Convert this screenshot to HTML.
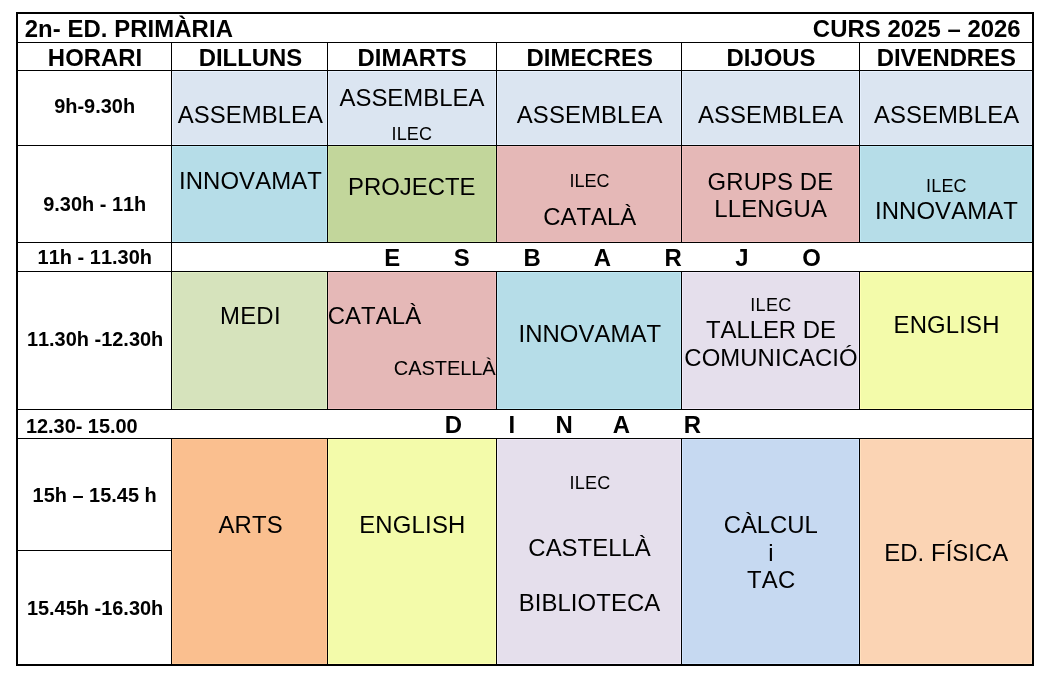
<!DOCTYPE html>
<html lang="ca"><head><meta charset="utf-8"><title>2n- ED. PRIMÀRIA – Horari curs 2025 – 2026</title>
<style>
html,body{margin:0;padding:0;background:#fff;}
body{width:1045px;height:681px;overflow:hidden;}
svg{display:block;will-change:transform;}
text{font-family:"Liberation Sans", Arial, Helvetica, sans-serif;font-kerning:none;fill:#000;white-space:pre;}
.b{font-weight:bold;}
</style></head><body>
<svg width="1045" height="681" viewBox="0 0 1045 681">
<rect x="0" y="0" width="1045" height="681" fill="#fff"/>
<rect x="172" y="71" width="155" height="74" fill="#DBE5F1"/>
<rect x="328" y="71" width="168" height="74" fill="#DBE5F1"/>
<rect x="497" y="71" width="184" height="74" fill="#DBE5F1"/>
<rect x="682" y="71" width="177" height="74" fill="#DBE5F1"/>
<rect x="860" y="71" width="172" height="74" fill="#DBE5F1"/>
<rect x="172" y="146" width="155" height="96" fill="#B6DDE8"/>
<rect x="328" y="146" width="168" height="96" fill="#C2D69B"/>
<rect x="497" y="146" width="184" height="96" fill="#E5B8B7"/>
<rect x="682" y="146" width="177" height="96" fill="#E5B8B7"/>
<rect x="860" y="146" width="172" height="96" fill="#B6DDE8"/>
<rect x="172" y="272" width="155" height="137" fill="#D6E3BC"/>
<rect x="328" y="272" width="168" height="137" fill="#E5B8B7"/>
<rect x="497" y="272" width="184" height="137" fill="#B6DDE8"/>
<rect x="682" y="272" width="177" height="137" fill="#E5DFEC"/>
<rect x="860" y="272" width="172" height="137" fill="#F3FBAA"/>
<rect x="172" y="439" width="155" height="225" fill="#FABF8F"/>
<rect x="328" y="439" width="168" height="225" fill="#F3FBAA"/>
<rect x="497" y="439" width="184" height="225" fill="#E5DFEC"/>
<rect x="682" y="439" width="177" height="225" fill="#C6D9F1"/>
<rect x="860" y="439" width="172" height="225" fill="#FBD4B4"/>
<rect x="172.5" y="71.5" width="154" height="73" fill="none" stroke="#E6F0FD" stroke-width="1"/>
<rect x="328.5" y="71.5" width="167" height="73" fill="none" stroke="#E6F0FD" stroke-width="1"/>
<rect x="497.5" y="71.5" width="183" height="73" fill="none" stroke="#E6F0FD" stroke-width="1"/>
<rect x="682.5" y="71.5" width="176" height="73" fill="none" stroke="#E6F0FD" stroke-width="1"/>
<rect x="860.5" y="71.5" width="171" height="73" fill="none" stroke="#E6F0FD" stroke-width="1"/>
<rect x="172.5" y="146.5" width="154" height="95" fill="none" stroke="#BFE8F4" stroke-width="1"/>
<rect x="328.5" y="146.5" width="167" height="95" fill="none" stroke="#CCE1A3" stroke-width="1"/>
<rect x="497.5" y="146.5" width="183" height="95" fill="none" stroke="#F0C1C0" stroke-width="1"/>
<rect x="682.5" y="146.5" width="176" height="95" fill="none" stroke="#F0C1C0" stroke-width="1"/>
<rect x="860.5" y="146.5" width="171" height="95" fill="none" stroke="#BFE8F4" stroke-width="1"/>
<rect x="172.5" y="272.5" width="154" height="136" fill="none" stroke="#E1EEC5" stroke-width="1"/>
<rect x="328.5" y="272.5" width="167" height="136" fill="none" stroke="#F0C1C0" stroke-width="1"/>
<rect x="497.5" y="272.5" width="183" height="136" fill="none" stroke="#BFE8F4" stroke-width="1"/>
<rect x="682.5" y="272.5" width="176" height="136" fill="none" stroke="#F0EAF8" stroke-width="1"/>
<rect x="860.5" y="272.5" width="171" height="136" fill="none" stroke="#FFFFB2" stroke-width="1"/>
<rect x="172.5" y="439.5" width="154" height="224" fill="none" stroke="#FFC996" stroke-width="1"/>
<rect x="328.5" y="439.5" width="167" height="224" fill="none" stroke="#FFFFB2" stroke-width="1"/>
<rect x="497.5" y="439.5" width="183" height="224" fill="none" stroke="#F0EAF8" stroke-width="1"/>
<rect x="682.5" y="439.5" width="176" height="224" fill="none" stroke="#D0E4FD" stroke-width="1"/>
<rect x="860.5" y="439.5" width="171" height="224" fill="none" stroke="#FFDFBD" stroke-width="1"/>
<rect x="16" y="12" width="1018" height="2" fill="#000"/>
<rect x="16" y="664" width="1018" height="2" fill="#000"/>
<rect x="16" y="12" width="2" height="654" fill="#000"/>
<rect x="1032" y="12" width="2" height="654" fill="#000"/>
<rect x="18" y="42" width="1014" height="1" fill="#000"/>
<rect x="18" y="70" width="1014" height="1" fill="#000"/>
<rect x="18" y="145" width="1014" height="1" fill="#000"/>
<rect x="18" y="242" width="1014" height="1" fill="#000"/>
<rect x="18" y="271" width="1014" height="1" fill="#000"/>
<rect x="18" y="409" width="1014" height="1" fill="#000"/>
<rect x="18" y="438" width="1014" height="1" fill="#000"/>
<rect x="18" y="550" width="153" height="1" fill="#000"/>
<rect x="171" y="43" width="1" height="366" fill="#000"/>
<rect x="171" y="439" width="1" height="225" fill="#000"/>
<rect x="327" y="43" width="1" height="199" fill="#000"/>
<rect x="327" y="272" width="1" height="137" fill="#000"/>
<rect x="327" y="439" width="1" height="225" fill="#000"/>
<rect x="496" y="43" width="1" height="199" fill="#000"/>
<rect x="496" y="272" width="1" height="137" fill="#000"/>
<rect x="496" y="439" width="1" height="225" fill="#000"/>
<rect x="681" y="43" width="1" height="199" fill="#000"/>
<rect x="681" y="272" width="1" height="137" fill="#000"/>
<rect x="681" y="439" width="1" height="225" fill="#000"/>
<rect x="859" y="43" width="1" height="199" fill="#000"/>
<rect x="859" y="272" width="1" height="137" fill="#000"/>
<rect x="859" y="439" width="1" height="225" fill="#000"/>
<text id="t_title" x="24.72" y="37.00" font-size="23.9" class="b" textLength="208.18" lengthAdjust="spacing">2n- ED. PRIMÀRIA</text>
<text id="t_curs" x="812.87" y="37.00" font-size="23.9" class="b" textLength="207.80" lengthAdjust="spacing">CURS 2025 – 2026</text>
<text id="t_HORARI" x="47.86" y="66.00" font-size="23.9" class="b" textLength="94.38" lengthAdjust="spacing">HORARI</text>
<text id="t_DILLUNS" x="198.71" y="66.00" font-size="23.9" class="b" textLength="103.56" lengthAdjust="spacing">DILLUNS</text>
<text id="t_DIMARTS" x="357.54" y="66.00" font-size="23.9" class="b" textLength="109.10" lengthAdjust="spacing">DIMARTS</text>
<text id="t_DIMECRES" x="526.53" y="66.00" font-size="23.9" class="b" textLength="126.32" lengthAdjust="spacing">DIMECRES</text>
<text id="t_DIJOUS" x="726.38" y="66.00" font-size="23.9" class="b" textLength="89.11" lengthAdjust="spacing">DIJOUS</text>
<text id="t_DIVENDRES" x="876.79" y="66.00" font-size="23.9" class="b" textLength="139.12" lengthAdjust="spacing">DIVENDRES</text>
<text id="t_9h" x="54.17" y="113.00" font-size="19.95" class="b" textLength="80.96" lengthAdjust="spacing">9h-9.30h</text>
<text id="t_930" x="43.17" y="211.00" font-size="19.95" class="b" textLength="103.07" lengthAdjust="spacing">9.30h - 11h</text>
<text id="t_11h" x="37.62" y="264.00" font-size="19.95" class="b" textLength="114.37" lengthAdjust="spacing">11h - 11.30h</text>
<text id="t_1130" x="26.88" y="346.00" font-size="19.95" class="b" textLength="136.38" lengthAdjust="spacing">11.30h -12.30h</text>
<text id="t_1230" x="25.88" y="433.00" font-size="19.95" class="b" textLength="111.81" lengthAdjust="spacing">12.30- 15.00</text>
<text id="t_15h" x="32.55" y="502.00" font-size="19.95" class="b" textLength="124.17" lengthAdjust="spacing">15h – 15.45 h</text>
<text id="t_1545" x="26.88" y="615.00" font-size="19.95" class="b" textLength="136.38" lengthAdjust="spacing">15.45h -16.30h</text>
<text id="t_ASM1" x="177.77" y="123.00" font-size="23.9" textLength="145.27" lengthAdjust="spacing">ASSEMBLEA</text>
<text id="t_ASM2" x="339.44" y="106.00" font-size="23.9" textLength="145.06" lengthAdjust="spacing">ASSEMBLEA</text>
<text id="t_ILEC2" x="391.62" y="140.00" font-size="18" textLength="40.31" lengthAdjust="spacing">ILEC</text>
<text id="t_ASM3" x="516.77" y="123.00" font-size="23.9" textLength="145.69" lengthAdjust="spacing">ASSEMBLEA</text>
<text id="t_ASM4" x="698.01" y="123.00" font-size="23.9" textLength="145.19" lengthAdjust="spacing">ASSEMBLEA</text>
<text id="t_ASM5" x="874.05" y="123.00" font-size="23.9" textLength="145.03" lengthAdjust="spacing">ASSEMBLEA</text>
<text id="t_INN1" x="178.93" y="189.00" font-size="23.9" textLength="142.90" lengthAdjust="spacing">INNOVAMAT</text>
<text id="t_PRJ" x="347.92" y="195.00" font-size="23.9" textLength="127.62" lengthAdjust="spacing">PROJECTE</text>
<text id="t_ILEC3" x="569.45" y="187.00" font-size="18" textLength="40.02" lengthAdjust="spacing">ILEC</text>
<text id="t_CAT3" x="543.18" y="225.00" font-size="23.9" textLength="93.03" lengthAdjust="spacing">CATALÀ</text>
<text id="t_GRUPS" x="707.62" y="190.00" font-size="23.9" textLength="125.55" lengthAdjust="spacing">GRUPS DE</text>
<text id="t_LLENG" x="714.16" y="217.00" font-size="23.9" textLength="112.82" lengthAdjust="spacing">LLENGUA</text>
<text id="t_ILEC5" x="926.10" y="192.00" font-size="18" textLength="40.43" lengthAdjust="spacing">ILEC</text>
<text id="t_INN5" x="875.03" y="219.00" font-size="23.9" textLength="142.72" lengthAdjust="spacing">INNOVAMAT</text>
<text id="t_MEDI" x="219.96" y="324.00" font-size="23.9" textLength="60.57" lengthAdjust="spacing">MEDI</text>
<text id="t_CAT2" x="327.75" y="324.00" font-size="23.9" textLength="93.32" lengthAdjust="spacing">CATALÀ</text>
<text id="t_CAST2" x="393.83" y="375.00" font-size="20" textLength="101.80" lengthAdjust="spacing">CASTELLÀ</text>
<text id="t_INN3" x="518.42" y="342.00" font-size="23.9" textLength="142.73" lengthAdjust="spacing">INNOVAMAT</text>
<text id="t_ILEC4" x="750.28" y="311.00" font-size="18" textLength="41.02" lengthAdjust="spacing">ILEC</text>
<text id="t_TALLER" x="706.00" y="338.00" font-size="23.9" textLength="129.84" lengthAdjust="spacing">TALLER DE</text>
<text id="t_COMUN" x="684.34" y="366.00" font-size="23.9" textLength="173.22" lengthAdjust="spacing">COMUNICACIÓ</text>
<text id="t_ENG5" x="893.61" y="333.00" font-size="23.9" textLength="105.79" lengthAdjust="spacing">ENGLISH</text>
<text id="t_ARTS" x="218.39" y="533.00" font-size="23.9" textLength="64.22" lengthAdjust="spacing">ARTS</text>
<text id="t_ENG2" x="359.16" y="533.00" font-size="23.9" textLength="106.18" lengthAdjust="spacing">ENGLISH</text>
<text id="t_ILEC6" x="569.46" y="489.00" font-size="18" textLength="40.82" lengthAdjust="spacing">ILEC</text>
<text id="t_CAST6" x="528.34" y="556.00" font-size="23.9" textLength="122.40" lengthAdjust="spacing">CASTELLÀ</text>
<text id="t_BIBL" x="518.78" y="611.00" font-size="23.9" textLength="141.38" lengthAdjust="spacing">BIBLIOTECA</text>
<text id="t_CALC" x="723.63" y="533.00" font-size="23.9" textLength="94.29" lengthAdjust="spacing">CÀLCUL</text>
<text id="t_i" x="768.20" y="561.00" font-size="23.9">i</text>
<text id="t_TAC" x="746.89" y="588.00" font-size="23.9" textLength="48.31" lengthAdjust="spacing">TAC</text>
<text id="t_EDF" x="884.23" y="561.00" font-size="23.9" textLength="124.08" lengthAdjust="spacing">ED. FÍSICA</text>
<text id="t_E" x="384.27" y="266.00" font-size="23.9" class="b">E</text>
<text id="t_S" x="453.64" y="266.00" font-size="23.9" class="b">S</text>
<text id="t_B" x="523.62" y="266.00" font-size="23.9" class="b">B</text>
<text id="t_A" x="593.78" y="266.00" font-size="23.9" class="b">A</text>
<text id="t_R" x="664.61" y="266.00" font-size="23.9" class="b">R</text>
<text id="t_J" x="735.24" y="266.00" font-size="23.9" class="b">J</text>
<text id="t_O" x="802.19" y="266.00" font-size="23.9" class="b">O</text>
<text id="t_D2" x="444.76" y="433.00" font-size="23.9" class="b">D</text>
<text id="t_I2" x="508.62" y="433.00" font-size="23.9" class="b">I</text>
<text id="t_N2" x="555.38" y="433.00" font-size="23.9" class="b">N</text>
<text id="t_A2" x="612.77" y="433.00" font-size="23.9" class="b">A</text>
<text id="t_R2" x="683.80" y="433.00" font-size="23.9" class="b">R</text>
</svg>
</body></html>
